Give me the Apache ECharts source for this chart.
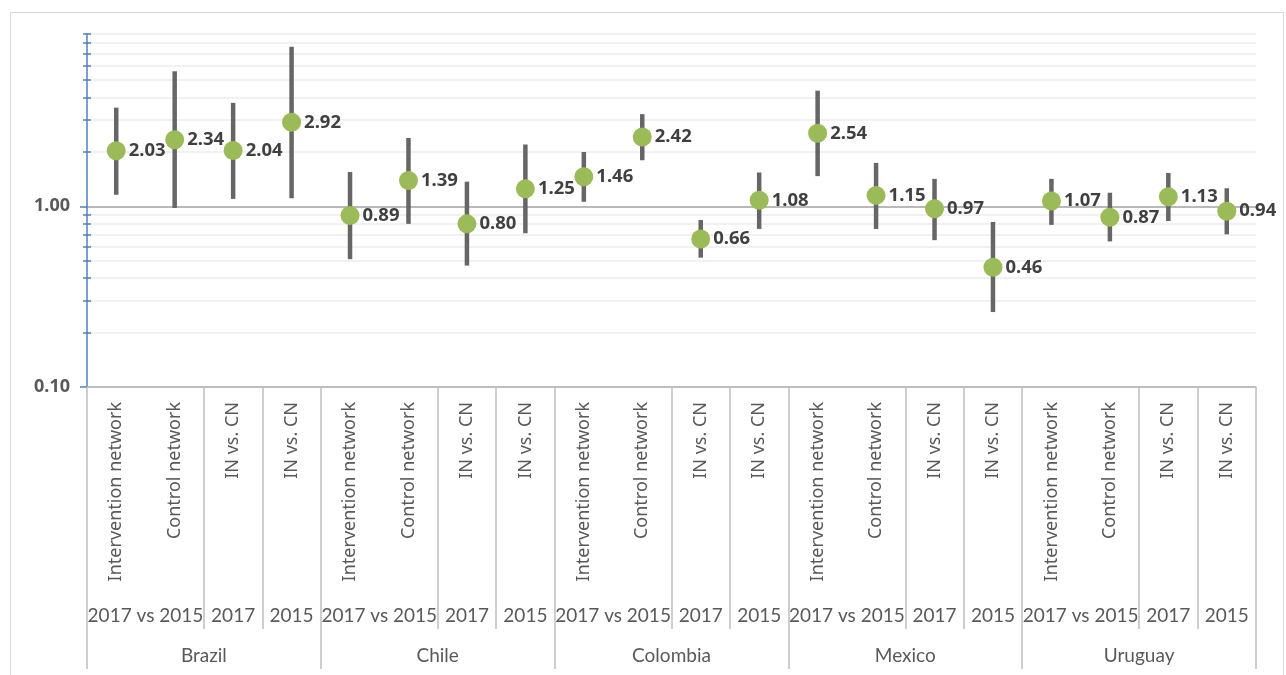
<!DOCTYPE html>
<html><head><meta charset="utf-8">
<script src="https://cdn.jsdelivr.net/npm/echarts@6/dist/echarts.min.js"></script>
<style>html,body{margin:0;padding:0;background:#fff}#c{width:1286px;height:675px}</style>
</head><body><div id="c"></div>
<script>
// ---- data ----
const categories = [
  'Intervention network','Control network','IN vs. CN','IN vs. CN',
  'Intervention network','Control network','IN vs. CN','IN vs. CN',
  'Intervention network','Control network','IN vs. CN','IN vs. CN',
  'Intervention network','Control network','IN vs. CN','IN vs. CN',
  'Intervention network','Control network','IN vs. CN','IN vs. CN'
];
const level2Labels = ['2017 vs 2015','2017','2015'];
const level2Spans = [2,1,1];
const countries = ['Brazil','Chile','Colombia','Mexico','Uruguay'];
const oddsRatio = [2.03,2.34,2.04,2.92, 0.89,1.39,0.80,1.25, 1.46,2.42,0.66,1.08, 2.54,1.15,0.97,0.46, 1.07,0.87,1.13,0.94];
const ciLower   = [1.16,0.98,1.10,1.11, 0.51,0.80,0.47,0.71, 1.06,1.80,0.52,0.75, 1.47,0.75,0.65,0.26, 0.79,0.64,0.83,0.70];
const ciUpper   = [3.52,5.60,3.74,7.65, 1.55,2.39,1.37,2.20, 2.00,3.24,0.84,1.54, 4.37,1.74,1.42,0.82, 1.42,1.19,1.53,1.26];
const yLabelTicks = [0.1, 1];
const yMinorTicks = [0.2,0.3,0.4,0.5,0.6,0.7,0.8,0.9,2,3,4,5,6,7,8,9];
const yMin = 0.1, yMax = 9;

// ---- derived axis positions (category units) ----
const l2LabelPos = [], l2TickPos = [0], l3LabelPos = [], l3TickPos = [0], l2Map = {}, l3Map = {};
let pos = 0;
countries.forEach(function (c) {
  const start = pos;
  level2Spans.forEach(function (s, j) {
    l2LabelPos.push(pos + s / 2); l2Map[(pos + s / 2).toFixed(2)] = level2Labels[j];
    pos += s; l2TickPos.push(pos);
  });
  l3LabelPos.push((start + pos) / 2); l3Map[((start + pos) / 2).toFixed(2)] = c;
  l3TickPos.push(pos);
});
const nCat = categories.length;

const GRAY_TXT = '#595959';
const SEP = '#BFBFBF';
const SANS = '"Noto Sans", "Open Sans", sans-serif';
const chart = echarts.init(document.getElementById('c'));
const option = {
  animation: false,
  backgroundColor: '#fff',
  graphic: [{type:'rect', left: 8, top: 10, shape:{width:1273, height:668}, style:{fill:'none', stroke:'#D9D9D9', lineWidth:1}, silent:true}],
  grid: {left: 87, right: 30, top: 34, bottom: 288, containLabel: false},
  xAxis: [
    {type:'category', data: categories, boundaryGap: true, position:'bottom',
      axisLine:{show:true, lineStyle:{color:SEP, width:1.5}},
      axisTick:{show:false},
      axisLabel:{interval:0, rotate:90, margin:15, color:GRAY_TXT, fontFamily:SANS, fontSize:18},
      splitLine:{show:false}},
    {type:'value', min:0, max:nCat, position:'bottom',
      axisLine:{show:false}, splitLine:{show:false},
      axisTick:{show:true, customValues:l2TickPos, length:242, lineStyle:{color:SEP, width:1.5}},
      axisLabel:{customValues:l2LabelPos, margin:219, color:GRAY_TXT, fontFamily:'Lato', fontSize:19,
        formatter:function(v){ return l2Map[Number(v).toFixed(2)] || ''; }}},
    {type:'value', min:0, max:nCat, position:'bottom',
      axisLine:{show:false}, splitLine:{show:false},
      axisTick:{show:true, customValues:l3TickPos, length:282, lineStyle:{color:SEP, width:1.5}},
      axisLabel:{customValues:l3LabelPos, margin:259, color:GRAY_TXT, fontFamily:'Lato', fontSize:19,
        formatter:function(v){ return l3Map[Number(v).toFixed(2)] || ''; }}}
  ],
  yAxis: [
    {type:'log', logBase:10, min:yMin, max:yMax, position:'left',
      axisLine:{show:true, lineStyle:{color:'#4F81BD', width:1.5}},
      axisTick:{show:true, customValues: yLabelTicks.concat(yMinorTicks), length:4, lineStyle:{color:'#4F81BD', width:1.5}},
      axisLabel:{customValues: yLabelTicks, margin:17, color:GRAY_TXT, fontFamily:SANS, fontWeight:'bold', fontSize:18,
        formatter:function(v){ return Number(v).toFixed(2); }},
      splitLine:{show:true, lineStyle:{color:'#EDEDED', width:1.5}}},
    {type:'log', logBase:10, min:yMin, max:yMax, position:'left',
      axisLine:{show:false},
      axisTick:{show:true, inside:true, customValues: yMinorTicks, length:4, lineStyle:{color:'#4F81BD', width:1.5}},
      axisLabel:{show:false}, splitLine:{show:false}},
    {type:'log', logBase:10, min:yMin, max:yMax, position:'left',
      axisLine:{show:false},
      axisTick:{show:true, customValues: yLabelTicks, length:7, lineStyle:{color:'#4F81BD', width:1.5}},
      axisLabel:{show:false},
      splitLine:{show:true, lineStyle:{color:'#A6A6A6', width:1.5}}}
  ],
  series: [
    {type:'custom', name:'CI', xAxisIndex:0, yAxisIndex:0, z:2,
      data: oddsRatio.map(function(_, i){ return [i, ciLower[i], ciUpper[i]]; }),
      encode:{x:0, y:[1,2]},
      renderItem:function(params, api){
        const i = api.value(0);
        const lo = api.coord([i, api.value(1)]);
        const hi = api.coord([i, api.value(2)]);
        return {type:'line', shape:{x1:lo[0], y1:lo[1], x2:hi[0], y2:hi[1]}, style:{stroke:'#666666', lineWidth:4.5}};
      }},
    {type:'scatter', name:'OR', xAxisIndex:0, yAxisIndex:0, z:3,
      data: oddsRatio, symbol:'circle', symbolSize:19,
      itemStyle:{color:'#9BBB59', opacity:1},
      label:{show:true, position:'right', distance:3, color:'#404040', fontFamily:SANS, fontWeight:'bold', fontSize:18.5,
        formatter:function(p){ return Number(p.value).toFixed(2); }}}
  ]
};
chart.setOption(option);
</script></body></html>
